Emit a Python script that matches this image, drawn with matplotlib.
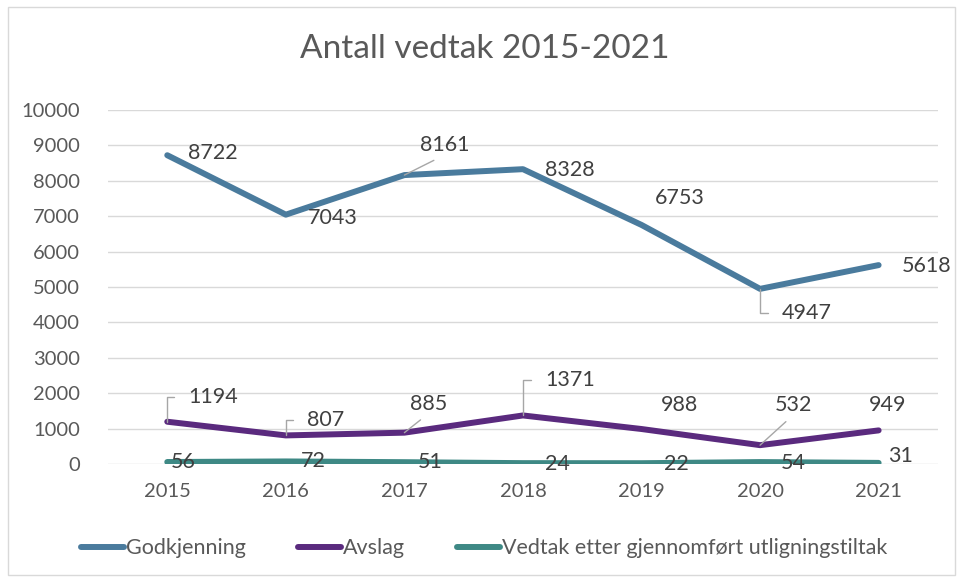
import matplotlib.pyplot as plt
from matplotlib.patches import Rectangle

years = ['2015', '2016', '2017', '2018', '2019', '2020', '2021']
godkjenning = [8722, 7043, 8161, 8328, 6753, 4947, 5618]
avslag = [1194, 807, 885, 1371, 988, 532, 949]
vedtak = [56, 72, 51, 24, 22, 54, 31]
names = ['Godkjenning', 'Avslag', 'Vedtak etter gjennomført utligningstiltak']
colors = ['#4A7B9D', '#5A2A7E', '#3E8985']

# label placement (pixel offsets from point, leader style)
godk_lab = [((46, 2), None), ((47, -3), None), ((40, 30), 'diag'), ((47, -1), None),
            ((38, 27), None), ((47, -24), 'elbow'), ((48, -1), None)]
avsl_lab = [((46, 25), 'elbow'), ((40, 15), 'elbow'), ((24, 29), 'diag'), ((47, 35), 'elbow'),
            ((38, 24), None), ((33, 40), 'diag'), ((9, 25), None)]
vedt_lab = [((16, 0), None), ((27, 0), None), ((26, 0), None), ((34, -1), None),
            ((35, -1), None), ((33, -1), None), ((22, 7), None)]

plt.rcParams['font.family'] = ['Lato', 'DejaVu Sans']
txt = '#595959'

fig = plt.figure(figsize=(9.59, 5.81), dpi=100)
fig.patches.append(Rectangle((0.008, 0.01), 0.988, 0.978, transform=fig.transFigure,
                             fill=False, edgecolor='#D9D9D9', lw=1))
ax = fig.add_axes([0.1126, 0.2014, 0.8654, 0.6093])

x = list(range(len(years)))
series = [godkjenning, avslag, vedtak]
labs = [godk_lab, avsl_lab, vedt_lab]
for vals, name, c, lab in zip(series, names, colors, labs):
    ax.plot(x, vals, color=c, lw=4.3, solid_capstyle='round', solid_joinstyle='round',
            label=name, zorder=3)
    for xi, v, ((dx, dy), lead) in zip(x, vals, lab):
        kw = dict(ha='center', va='center', fontsize=15.5, color='#404040',
                  textcoords='offset pixels', zorder=4)
        if lead == 'elbow':
            kw['arrowprops'] = dict(arrowstyle='-', color='#A6A6A6', lw=1,
                                    connectionstyle='angle,angleA=0,angleB=90,rad=0',
                                    relpos=(0, 0.5), shrinkA=8, shrinkB=0)
        elif lead == 'diag':
            kw['arrowprops'] = dict(arrowstyle='-', color='#A6A6A6', lw=1,
                                    relpos=(0.5, 0), shrinkA=4, shrinkB=0)
        ax.annotate(str(v), (xi, v), xytext=(dx, dy), **kw)

ax.set_xlim(-0.5, len(years) - 0.5)
ax.set_ylim(0, 10000)
ax.set_yticks(range(0, 10001, 1000))
ax.set_xticks(x)
ax.set_xticklabels(years)
ax.tick_params(length=0, labelsize=14.5, labelcolor=txt)
ax.tick_params(axis='y', pad=20)
ax.tick_params(axis='x', pad=14)
ax.grid(axis='y', color='#D9D9D9', lw=1)
ax.set_axisbelow(True)
for s in ax.spines.values():
    s.set_visible(False)

fig.text(0.505, 0.915, 'Antall vedtak 2015-2021', ha='center', va='center',
         fontsize=24, color=txt)
fig.legend(loc='center', bbox_to_anchor=(0.505, 0.056), ncol=3, frameon=False,
           fontsize=15.5, handlelength=2.0, columnspacing=2.4, handletextpad=0.1,
           labelcolor=txt)

fig.savefig('out.png', dpi=100)
